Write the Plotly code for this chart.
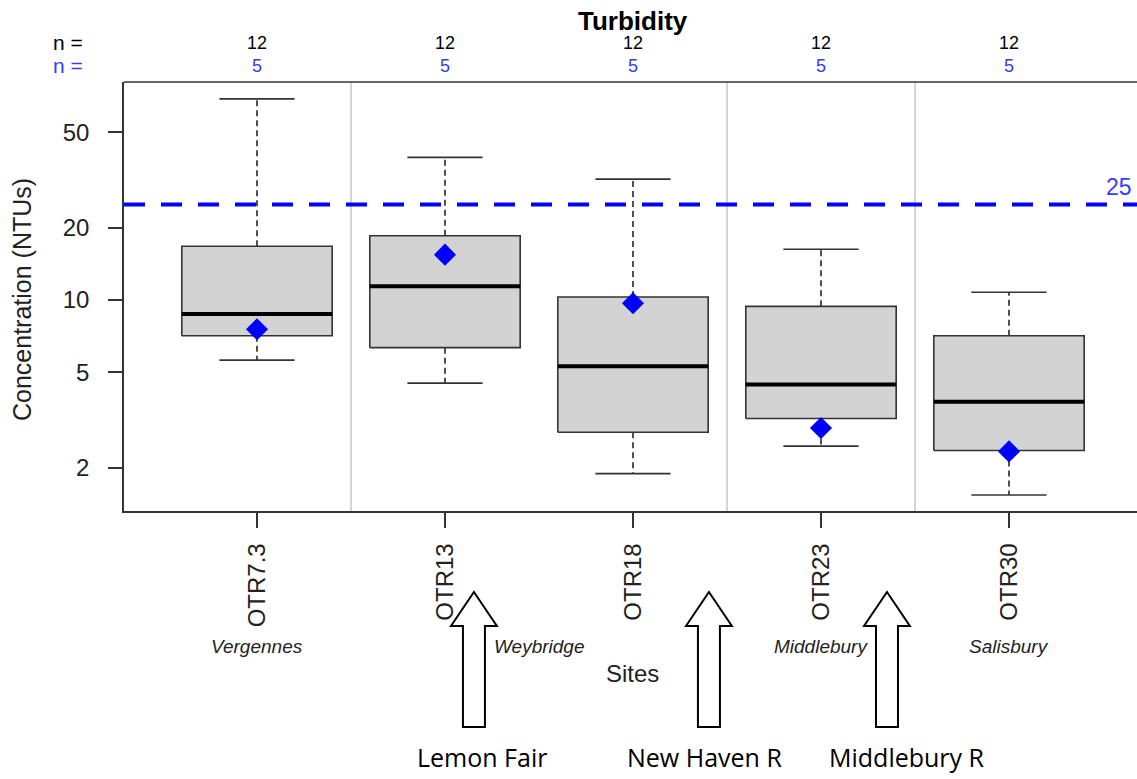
import math
import plotly.graph_objects as go

# ---------------- data ----------------
sites = ["OTR7.3", "OTR13", "OTR18", "OTR23", "OTR30"]
lower_whisker = [5.62, 4.50, 1.89, 2.46, 1.54]
q1 = [7.10, 6.33, 2.81, 3.21, 2.36]
median = [8.74, 11.4, 5.29, 4.44, 3.77]
q3 = [16.74, 18.53, 10.29, 9.41, 7.10]
upper_whisker = [68.8, 39.3, 31.9, 16.27, 10.77]
mean_subset = [7.55, 15.45, 9.69, 2.93, 2.34]
n_all = [12, 12, 12, 12, 12]
n_subset = [5, 5, 5, 5, 5]
standard = 25
y_ticks = [2, 5, 10, 20, 50]
separators = [1.5, 3.5, 4.5]
towns = ["Vergennes", "Weybridge", "Middlebury", "Salisbury"]
town_pos = [1, 2.5, 4, 5]
tributaries = ["Lemon Fair", "New Haven R", "Middlebury R"]
trib_arrow_x = [2.154, 3.404, 4.351]
trib_label_x = [2.197, 3.383, 4.457]

FONT = "Liberation Sans, Arial, sans-serif"
BLUE_TXT = "#3a3aff"
xpos = list(range(1, len(sites) + 1))
BW = 0.4   # half box width
CW = 0.2   # half cap width

fig = go.Figure()

# boxes
bx, by = [], []
for x, a, b in zip(xpos, q1, q3):
    bx += [x - BW, x + BW, x + BW, x - BW, x - BW, None]
    by += [a, a, b, b, a, None]
fig.add_trace(go.Scatter(x=bx, y=by, mode="lines", fill="toself",
                         fillcolor="#d3d3d3", line=dict(color="#333333", width=1.6),
                         hoverinfo="skip", showlegend=False))

# whiskers (dashed)
wx, wy = [], []
for x, a, b, lo, hi in zip(xpos, q1, q3, lower_whisker, upper_whisker):
    wx += [x, x, None, x, x, None]
    wy += [b, hi, None, a, lo, None]
fig.add_trace(go.Scatter(x=wx, y=wy, mode="lines",
                         line=dict(color="#333333", width=1.7, dash="6px,4px"),
                         hoverinfo="skip", showlegend=False))

# caps
cx, cy = [], []
for x, lo, hi in zip(xpos, lower_whisker, upper_whisker):
    cx += [x - CW, x + CW, None, x - CW, x + CW, None]
    cy += [hi, hi, None, lo, lo, None]
fig.add_trace(go.Scatter(x=cx, y=cy, mode="lines",
                         line=dict(color="#333333", width=1.7),
                         hoverinfo="skip", showlegend=False))

# medians
mx, my = [], []
for x, m in zip(xpos, median):
    mx += [x - BW, x + BW, None]
    my += [m, m, None]
fig.add_trace(go.Scatter(x=mx, y=my, mode="lines",
                         line=dict(color="black", width=4),
                         hoverinfo="skip", showlegend=False))

# means (subset)
fig.add_trace(go.Scatter(x=xpos, y=mean_subset, mode="markers",
                         marker=dict(symbol="diamond", size=17, color="blue",
                                     line=dict(width=0)),
                         showlegend=False))

XR = [0.2926, 5.6809]
YR = [0.1208, 1.9083]

shapes = []
for s in separators:
    shapes.append(dict(type="line", xref="x", yref="paper", x0=s, x1=s, y0=0, y1=1,
                       line=dict(color="#bebebe", width=1.3), layer="below"))
shapes.append(dict(type="line", xref="paper", yref="y", x0=0, x1=1,
                   y0=standard, y1=standard,
                   line=dict(color="blue", width=4, dash="21px,16px")))
shapes.append(dict(type="line", xref="paper", yref="paper", x0=0, x1=1, y0=1, y1=1,
                   line=dict(color="#333333", width=1.5)))


def py(p):
    return (511 - p) / 429.0


tip, base, bottom = py(592), py(626), py(727)
HW, SW = 0.122, 0.0585
for ax_ in trib_arrow_x:
    path = (f"M {ax_} {tip} L {ax_ + HW} {base} L {ax_ + SW} {base} "
            f"L {ax_ + SW} {bottom} L {ax_ - SW} {bottom} L {ax_ - SW} {base} "
            f"L {ax_ - HW} {base} Z")
    shapes.append(dict(type="path", xref="x", yref="paper", path=path,
                       fillcolor="white", line=dict(color="black", width=2),
                       layer="above"))

ann = []
ann.append(dict(text="<b>Turbidity</b>", x=3, xref="x", y=py(21), yref="paper",
                showarrow=False, font=dict(family=FONT, size=26, color="black"),
                xanchor="center", yanchor="middle"))
ann.append(dict(text="n =", x=(51 - 124) / 1013, xref="paper", y=py(42), yref="paper",
                showarrow=False, font=dict(family=FONT, size=21, color="black"),
                xanchor="left", yanchor="middle"))
ann.append(dict(text="n =", x=(51 - 124) / 1013, xref="paper", y=py(66), yref="paper",
                showarrow=False, font=dict(family=FONT, size=21, color=BLUE_TXT),
                xanchor="left", yanchor="middle"))
for x, a, b in zip(xpos, n_all, n_subset):
    ann.append(dict(text=str(a), x=x, xref="x", y=py(43), yref="paper", showarrow=False,
                    font=dict(family=FONT, size=18, color="black"),
                    xanchor="center", yanchor="middle"))
    ann.append(dict(text=str(b), x=x, xref="x", y=py(66), yref="paper", showarrow=False,
                    font=dict(family=FONT, size=18, color=BLUE_TXT),
                    xanchor="center", yanchor="middle"))
ann.append(dict(text="Concentration (NTUs)", x=(22 - 124) / 1013, xref="paper",
                y=py(300), yref="paper", textangle=-90, showarrow=False,
                font=dict(family=FONT, size=25, color="#222222"),
                xanchor="center", yanchor="middle"))
ann.append(dict(text=str(standard), x=(1134 - 124) / 1013, xref="paper",
                y=math.log10(standard), yref="y", yshift=17, showarrow=False,
                font=dict(family=FONT, size=23, color=BLUE_TXT),
                xanchor="right", yanchor="middle"))
for t, x in zip(towns, town_pos):
    ann.append(dict(text=f"<i>{t}</i>", x=x, xref="x", y=py(646), yref="paper",
                    showarrow=False, font=dict(family=FONT, size=19, color="#222222"),
                    xanchor="center", yanchor="middle"))
ann.append(dict(text="Sites", x=3, xref="x", y=py(673), yref="paper", showarrow=False,
                font=dict(family=FONT, size=24, color="#222222"),
                xanchor="center", yanchor="middle"))
for t, x in zip(tributaries, trib_label_x):
    ann.append(dict(text=t, x=x, xref="x", y=py(757), yref="paper", showarrow=False,
                    font=dict(family="Open Sans, sans-serif", size=25, color="black"),
                    xanchor="center", yanchor="middle"))

fig.update_layout(
    width=1137, height=779,
    margin=dict(l=124, r=0, t=82, b=268, pad=0),
    paper_bgcolor="white", plot_bgcolor="white",
    showlegend=False,
    shapes=shapes, annotations=ann,
    xaxis=dict(range=XR, tickvals=xpos, ticktext=sites, tickangle=-90,
               ticks="outside", ticklen=15, tickcolor="#333333", tickwidth=1.5,
               showline=True, linecolor="#333333", linewidth=1.5,
               showgrid=False, zeroline=False, ticklabelstandoff=6,
               tickfont=dict(family=FONT, size=24, color="#222222")),
    yaxis=dict(type="log", range=YR, tickvals=y_ticks, ticktext=[str(v) for v in y_ticks],
               ticks="outside", ticklen=14, tickcolor="#333333", tickwidth=1.5,
               showline=True, linecolor="#333333", linewidth=1.5,
               showgrid=False, zeroline=False, ticklabelstandoff=14,
               tickfont=dict(family=FONT, size=24, color="#222222")),
)

fig.write_html("out.html")
